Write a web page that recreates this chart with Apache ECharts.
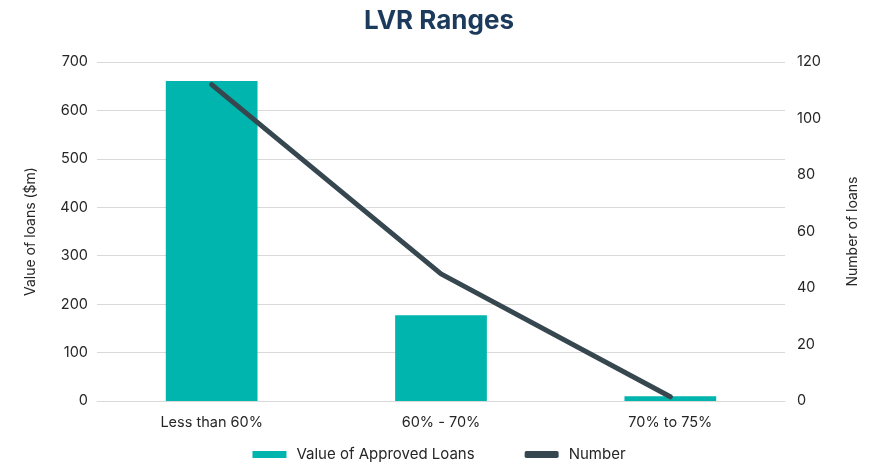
<!DOCTYPE html>
<html>
<head>
<meta charset="utf-8">
<script src="https://cdn.jsdelivr.net/npm/echarts@6/dist/echarts.min.js"></script>
<style>
  html, body { margin: 0; padding: 0; background: #fff; }
  #chart { width: 878px; height: 468px; }
</style>
</head>
<body>
<div id="chart"></div>
<script>
const categories = ['Less than 60%', '60% - 70%', '70% to 75%'];
const loanValues = [661, 177, 10];
const loanCounts = [112, 45, 1.5];
const leftTicks = { min: 0, max: 700, interval: 100 };
const rightTicks = { min: 0, max: 120, interval: 20 };

const font = 'Inter';
const labelColor = '#262626';

const chart = echarts.init(document.getElementById('chart'));

chart.setOption({
  animation: false,
  textStyle: { fontFamily: font },
  title: {
    text: 'LVR Ranges',
    left: 'center',
    top: 3,
    textStyle: { fontSize: 26, fontWeight: 'bold', color: '#1b3a5c', fontFamily: font },
  },
  grid: { left: 97, right: 93, top: 62, bottom: 67 },
  legend: {
    bottom: 1,
    itemGap: 50,
    itemWidth: 34,
    itemHeight: 7,
    textStyle: { fontSize: 15, color: labelColor, fontFamily: font, padding: [0, 0, 0, 5] },
    data: [
      { name: 'Value of Approved Loans', icon: 'rect' },
      { name: 'Number', icon: 'roundRect' },
    ],
  },
  xAxis: {
    type: 'category',
    data: categories,
    axisLine: { lineStyle: { color: '#d9d9d9' } },
    axisTick: { show: false },
    axisLabel: { fontSize: 14.5, color: labelColor, margin: 14 },
  },
  yAxis: [
    {
      type: 'value',
      ...leftTicks,
      name: 'Value of loans ($m)',
      nameLocation: 'middle',
      nameRotate: 90,
      nameGap: 59,
      nameTextStyle: { fontSize: 14, color: labelColor },
      axisLabel: { fontSize: 14.5, color: labelColor, margin: 9 },
      splitLine: { lineStyle: { color: '#d9d9d9' } },
    },
    {
      type: 'value',
      ...rightTicks,
      name: 'Number of loans',
      nameLocation: 'middle',
      nameRotate: 90,
      nameGap: 61,
      nameTextStyle: { fontSize: 14, color: labelColor },
      axisLabel: { fontSize: 14.5, color: labelColor, margin: 12 },
      splitLine: { show: false },
    },
  ],
  series: [
    {
      name: 'Value of Approved Loans',
      type: 'bar',
      data: loanValues,
      barWidth: '40%',
      itemStyle: { color: '#00b5ad' },
    },
    {
      name: 'Number',
      type: 'line',
      yAxisIndex: 1,
      data: loanCounts,
      symbol: 'none',
      lineStyle: { color: '#37474f', width: 5, cap: 'round' },
      itemStyle: { color: '#37474f' },
    },
  ],
});
</script>
</body>
</html>
